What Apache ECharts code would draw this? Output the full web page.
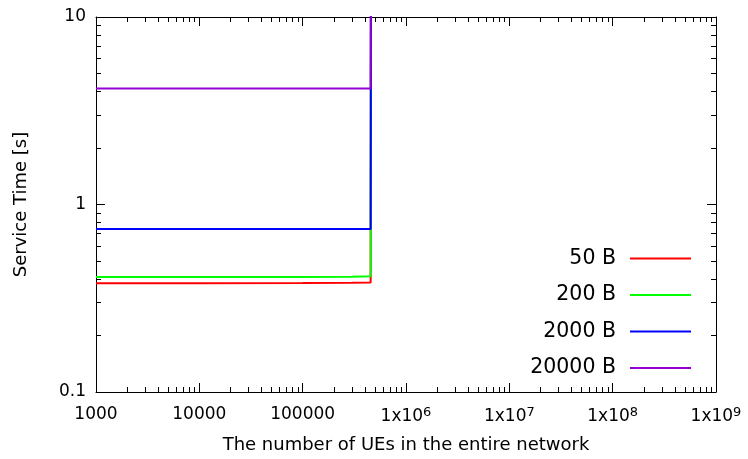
<!DOCTYPE html>
<html><head><meta charset="utf-8">
<script src="https://cdn.jsdelivr.net/npm/echarts@6/dist/echarts.min.js"></script>
<style>html,body{margin:0;padding:0;background:#fff}#c{width:748px;height:459px}</style>
</head><body><div id="c"></div>
<script>
const xUEs = [1000, 10000, 100000, 300000, 455000, 458000, 462000];
const s50 = [0.380, 0.380, 0.381, 0.382, 0.384, 0.384, 1000];
const s200 = [0.410, 0.410, 0.411, 0.412, 0.414, 0.414, 1000];
const s2000 = [0.740, 0.740, 0.740, 0.740, 0.740, 0.740, 1000];
const s20000 = [4.15, 4.15, 4.15, 4.15, 4.15, 4.15, 1000];
const seriesNames = ['50 B', '200 B', '2000 B', '20000 B'];
const seriesColors = ['#ff0000', '#00ff00', '#0000ff', '#9400d3'];
const seriesData = [s50, s200, s2000, s20000];

const font = 'DejaVu Sans';
function xLabel(v) {
  const e = Math.round(Math.log10(v));
  if (e <= 5) return String(Math.round(v));
  return '1x10{s|' + e + '}';
}
const chart = echarts.init(document.getElementById('c'), null, {renderer: 'canvas'});
const axisLineStyle = {color: '#000', width: 1};
chart.setOption({
  animation: false,
  textStyle: {fontFamily: font},
  grid: {left: 96, right: 32, top: 17, bottom: 67, containLabel: false, outerBoundsMode: 'none'},
  legend: {
    right: 52, top: 243, orient: 'vertical', align: 'right',
    itemWidth: 61, itemHeight: 2, itemGap: 15.5,
    textStyle: {fontSize: 20.5, lineHeight: 20.5, color: '#000', fontFamily: font, padding: [0, 9, 0, 0]},
    data: seriesNames.map((n, i) => ({name: n, icon: 'rect', itemStyle: {color: seriesColors[i]}}))
  },
  xAxis: [{
    type: 'log', logBase: 10, min: 1000, max: 1e9, position: 'bottom',
    name: 'The number of UEs in the entire network', nameLocation: 'middle', nameGap: 44,
    nameTextStyle: {fontSize: 18, color: '#000', fontFamily: font},
    axisLine: {lineStyle: axisLineStyle},
    axisTick: {inside: true, length: 9, lineStyle: {color: '#000'}},
    minorTick: {show: true, splitNumber: 9, length: 5, lineStyle: {color: '#000'}},
    splitLine: {show: false},
    axisLabel: {fontSize: 17, color: '#000', margin: 14, formatter: xLabel, fontFamily: font,
      rich: {s: {fontSize: 13, verticalAlign: 'top', padding: [0, 0, 8, 0], color: '#000', fontFamily: font}}}
  }, {
    type: 'log', logBase: 10, min: 1000, max: 1e9, position: 'top',
    axisLine: {lineStyle: axisLineStyle},
    axisTick: {inside: true, length: 9, lineStyle: {color: '#000'}},
    minorTick: {show: true, splitNumber: 9, length: 5, lineStyle: {color: '#000'}},
    axisLabel: {show: false}, splitLine: {show: false}
  }],
  yAxis: [{
    type: 'log', logBase: 10, min: 0.1, max: 10, position: 'left',
    name: 'Service Time [s]', nameLocation: 'middle', nameGap: 66, nameRotate: 90,
    nameTextStyle: {fontSize: 18, color: '#000', fontFamily: font},
    axisLine: {show: true, lineStyle: axisLineStyle},
    axisTick: {show: true, inside: true, length: 9, lineStyle: {color: '#000'}},
    minorTick: {show: true, splitNumber: 9, length: 5, lineStyle: {color: '#000'}},
    splitLine: {show: false},
    axisLabel: {fontSize: 17, color: '#000', margin: 10, fontFamily: font, formatter: v => String(v)}
  }, {
    type: 'log', logBase: 10, min: 0.1, max: 10, position: 'right',
    axisLine: {show: true, lineStyle: axisLineStyle},
    axisTick: {show: true, inside: true, length: 9, lineStyle: {color: '#000'}},
    minorTick: {show: true, splitNumber: 9, length: 5, lineStyle: {color: '#000'}},
    axisLabel: {show: false}, splitLine: {show: false}
  }],
  series: seriesData.map((d, i) => ({
    name: seriesNames[i], type: 'line', xAxisIndex: 0, yAxisIndex: 0,
    data: xUEs.map((x, j) => [x, d[j]]),
    showSymbol: false, symbol: 'none', clip: true,
    lineStyle: {color: seriesColors[i], width: 2},
    itemStyle: {color: seriesColors[i]}
  }))
});
</script></body></html>
